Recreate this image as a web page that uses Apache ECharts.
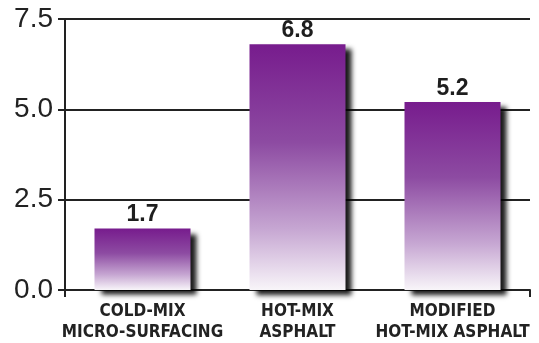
<!DOCTYPE html>
<html>
<head>
<meta charset="utf-8">
<script src="https://cdn.jsdelivr.net/npm/echarts@6/dist/echarts.min.js"></script>
<style>
  html, body { margin: 0; padding: 0; background: #fff; }
  #chart { width: 539px; height: 343px; }
</style>
</head>
<body>
<div id="chart"></div>
<script>
const categories = ['COLD-MIX\nMICRO-SURFACING', 'HOT-MIX\nASPHALT', 'MODIFIED\nHOT-MIX ASPHALT']
const values = [1.7, 6.8, 5.2]
const yTicks = [0, 2.5, 5, 7.5]

const chart = echarts.init(document.getElementById('chart'))

const barFill = new echarts.graphic.LinearGradient(0, 0, 0, 1, [
  { offset: 0, color: '#771c8d' },
  { offset: 0.4, color: '#8d4ba2' },
  { offset: 0.75, color: '#c6a6d2' },
  { offset: 1, color: '#f8f5f9' }
])

chart.setOption({
  animation: false,
  grid: { left: 65, right: 9, top: 19, bottom: 50 },
  xAxis: {
    type: 'category',
    data: categories,
    axisLine: { lineStyle: { color: '#222', width: 2 } },
    axisTick: { show: true, length: 7, interval: (i) => i === 0, lineStyle: { color: '#222', width: 2 } },
    axisLabel: {
      interval: 0,
      margin: 11,
      color: '#222',
      fontFamily: '"Liberation Sans Narrow", "DejaVu Sans Condensed", sans-serif',
      fontWeight: 'bold',
      fontSize: 17,
      lineHeight: 21
    }
  },
  yAxis: {
    type: 'value',
    min: yTicks[0],
    max: yTicks[yTicks.length - 1],
    interval: 2.5,
    axisLine: { show: true, lineStyle: { color: '#222', width: 2 } },
    axisTick: { show: true, length: 7, lineStyle: { color: '#222', width: 2 } },
    axisLabel: {
      margin: 12,
      color: '#222',
      fontFamily: '"Liberation Sans", Arial, sans-serif',
      fontSize: 28,
      formatter: (v) => v.toFixed(1)
    },
    splitLine: { lineStyle: { color: '#222', width: 2 } }
  },
  series: [{
    type: 'bar',
    data: values,
    barWidth: 96,
    itemStyle: {
      color: barFill,
      shadowColor: 'rgba(0,0,0,0.9)',
      shadowBlur: 5,
      shadowOffsetX: 6,
      shadowOffsetY: 5
    },
    label: {
      show: true,
      position: 'top',
      distance: 2,
      color: '#1e1e1e',
      fontFamily: '"Liberation Sans", Arial, sans-serif',
      fontWeight: 'bold',
      fontSize: 23,
      formatter: ({ value }) => value.toFixed(1)
    }
  }]
})
</script>
</body>
</html>
